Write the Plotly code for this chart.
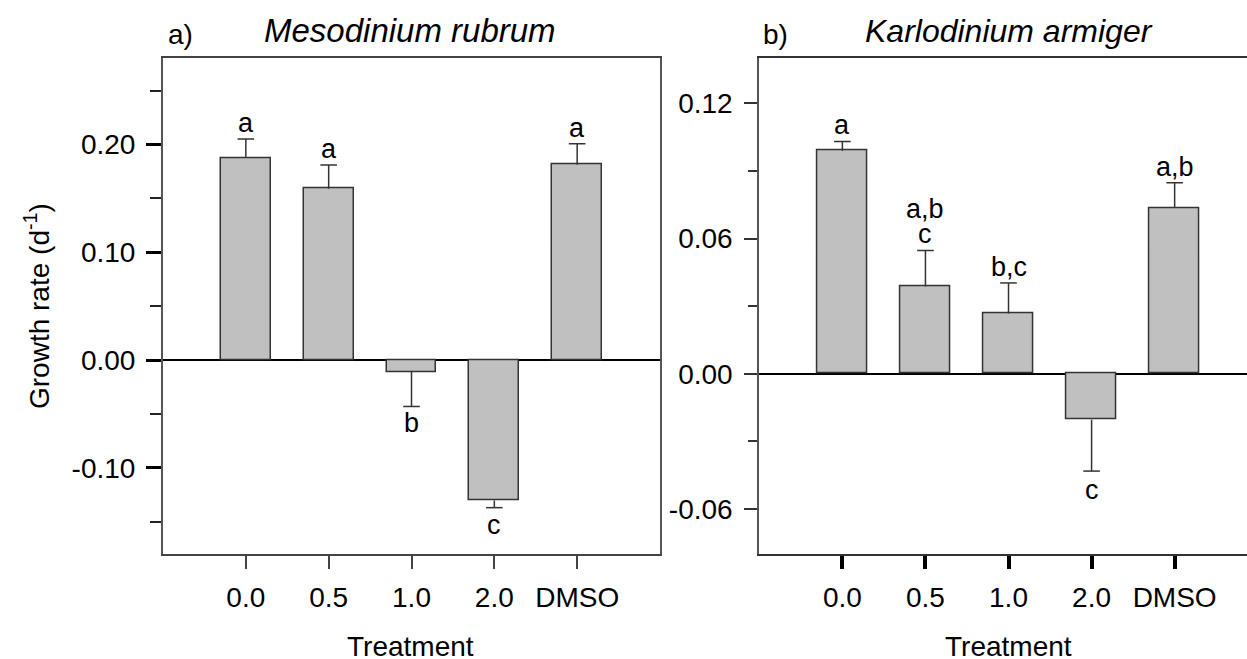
import plotly.graph_objects as go

categories = ["0.0", "0.5", "1.0", "2.0", "DMSO"]

# Panel a) Mesodinium rubrum
meso_growth = [0.1876, 0.159, -0.0111, -0.1304, 0.1813]
meso_err = [0.0176, 0.022, 0.032, 0.0066, 0.0195]
meso_letters = ["a", "a", "b", "c", "a"]

# Panel b) Karlodinium armiger
karlo_growth = [0.099, 0.0387, 0.0267, -0.0204, 0.0736]
karlo_err = [0.0041, 0.016, 0.0136, 0.0228, 0.0112]
karlo_letters = ["a", "a,b\nc", "b,c", "c", "a,b"]

W, H = 1247, 659
FONT = "Arial, Liberation Sans, Helvetica, sans-serif"
BAR_FILL = "#c0c0c0"
EDGE = "#333333"
CAP_HALF = 0.1  # half-width of error-bar caps in category units

fig = go.Figure()

def add_panel(vals, errs, xref, yref):
    xs = list(range(len(categories)))
    fig.add_trace(go.Bar(
        x=xs, y=vals, width=0.6,
        marker=dict(color=BAR_FILL, line=dict(color=EDGE, width=1.5)),
        xaxis=xref, yaxis=yref, showlegend=False, hoverinfo="skip",
    ))
    # one-sided error bars (stem + cap at the tip only)
    ex, ey = [], []
    for i, (v, e) in enumerate(zip(vals, errs)):
        tip = v + e if v >= 0 else v - e
        ex += [i, i, None, i - CAP_HALF, i + CAP_HALF, None]
        ey += [v, tip, None, tip, tip, None]
    fig.add_trace(go.Scatter(
        x=ex, y=ey, mode="lines", line=dict(color=EDGE, width=1.5),
        xaxis=xref, yaxis=yref, showlegend=False, hoverinfo="skip",
    ))

add_panel(meso_growth, meso_err, "x", "y")
add_panel(karlo_growth, karlo_err, "x2", "y2")

annotations = []
LETTER_SIZE = 27

def add_letters(vals, errs, letters, xref, yref, pos_shift, neg_shift, line_gap):
    for i, (v, e, lab) in enumerate(zip(vals, errs, letters)):
        lines = lab.split("\n")
        if v >= 0:
            tip = v + e
            for k, ln in enumerate(reversed(lines)):
                annotations.append(dict(
                    x=i, y=tip, xref=xref, yref=yref, text=ln, showarrow=False,
                    yanchor="bottom", xanchor="center", yshift=pos_shift + k * line_gap,
                    font=dict(family=FONT, size=LETTER_SIZE, color="black")))
        else:
            tip = v - e
            for k, ln in enumerate(lines):
                annotations.append(dict(
                    x=i, y=tip, xref=xref, yref=yref, text=ln, showarrow=False,
                    yanchor="top", xanchor="center", yshift=neg_shift - k * line_gap,
                    font=dict(family=FONT, size=LETTER_SIZE, color="black")))

add_letters(meso_growth, meso_err, meso_letters, "x", "y", -1, 0, 25)
add_letters(karlo_growth, karlo_err, karlo_letters, "x2", "y2", -1, -2, 25)

def px_x(px):
    return px / W

def px_y(py):
    return 1 - py / H

annotations += [
    dict(x=px_x(180), y=px_y(35), xref="paper", yref="paper", text="a)", showarrow=False,
         xanchor="center", yanchor="middle", font=dict(family=FONT, size=28, color="black")),
    dict(x=px_x(410), y=px_y(31), xref="paper", yref="paper", text="<i>Mesodinium rubrum</i>",
         showarrow=False, xanchor="center", yanchor="middle",
         font=dict(family=FONT, size=33, color="black")),
    dict(x=px_x(775), y=px_y(35), xref="paper", yref="paper", text="b)", showarrow=False,
         xanchor="center", yanchor="middle", font=dict(family=FONT, size=28, color="black")),
    dict(x=px_x(1009), y=px_y(31), xref="paper", yref="paper", text="<i>Karlodinium armiger</i>",
         showarrow=False, xanchor="center", yanchor="middle",
         font=dict(family=FONT, size=32, color="black")),
    dict(x=px_x(410), y=px_y(646), xref="paper", yref="paper", text="Treatment", showarrow=False,
         xanchor="center", yanchor="middle", font=dict(family=FONT, size=28, color="black")),
    dict(x=px_x(1008), y=px_y(646), xref="paper", yref="paper", text="Treatment", showarrow=False,
         xanchor="center", yanchor="middle", font=dict(family=FONT, size=28, color="black")),
    dict(x=px_x(37), y=px_y(306), xref="paper", yref="paper", text="Growth rate (d<sup>-1</sup>)",
         showarrow=False, xanchor="center", yanchor="middle", textangle=-90,
         font=dict(family=FONT, size=28, color="black")),
]

ydom = [px_y(554), px_y(58.3)]
tickfont = dict(family=FONT, size=28, color="black")

fig.update_layout(
    width=W, height=H, margin=dict(l=0, r=0, t=0, b=0),
    paper_bgcolor="white", plot_bgcolor="white",
    bargap=0, annotations=annotations,
    xaxis=dict(domain=[px_x(163), px_x(660)], range=[-1, 5], tickmode="array",
               tickvals=list(range(5)), ticktext=categories, ticks="outside", ticklen=13,
               tickwidth=1.5, tickcolor="#444", showline=True, linecolor="#444", linewidth=1.5,
               mirror=True, showgrid=False, zeroline=False, tickfont=tickfont,
               ticklabelstandoff=5, fixedrange=True),
    yaxis=dict(domain=ydom, range=[-0.18, 0.28], tickmode="array",
               tickvals=[-0.1, 0.0, 0.1, 0.2], ticktext=["-0.10", "0.00", "0.10", "0.20"],
               ticks="outside", ticklen=15, tickwidth=3, tickcolor="black",
               minor=dict(tickvals=[-0.15, -0.05, 0.05, 0.15, 0.25], ticks="outside",
                          ticklen=11, tickwidth=1.5, tickcolor="#222"),
               showline=True, linecolor="#555", linewidth=2, mirror=True, showgrid=False,
               zeroline=True, zerolinecolor="black", zerolinewidth=1.5, tickfont=tickfont,
               ticklabelstandoff=5, fixedrange=True),
    xaxis2=dict(domain=[px_x(759.3), 1.0], range=[-1, 4.871], tickmode="array",
                tickvals=list(range(5)), ticktext=categories, ticks="outside", ticklen=13,
                tickwidth=3.5, tickcolor="black", showline=True, linecolor="#333", linewidth=1.5,
                mirror=True, showgrid=False, zeroline=False, tickfont=tickfont,
                ticklabelstandoff=5, anchor="y2", fixedrange=True),
    yaxis2=dict(domain=ydom, range=[-0.08, 0.14], tickmode="array",
                tickvals=[-0.06, 0.0, 0.06, 0.12], ticktext=["-0.06", "0.00", "0.06", "0.12"],
                ticks="outside", ticklen=13, tickwidth=1.5, tickcolor="#333",
                minor=dict(tickvals=[-0.03, 0.03, 0.09], ticks="outside",
                           ticklen=9, tickwidth=1.5, tickcolor="#333"),
                showline=True, linecolor="#555", linewidth=2, mirror=False, showgrid=False,
                zeroline=True, zerolinecolor="black", zerolinewidth=1.5, tickfont=tickfont,
                ticklabelstandoff=6, anchor="x2", fixedrange=True),
)

fig.write_html("out.html")
